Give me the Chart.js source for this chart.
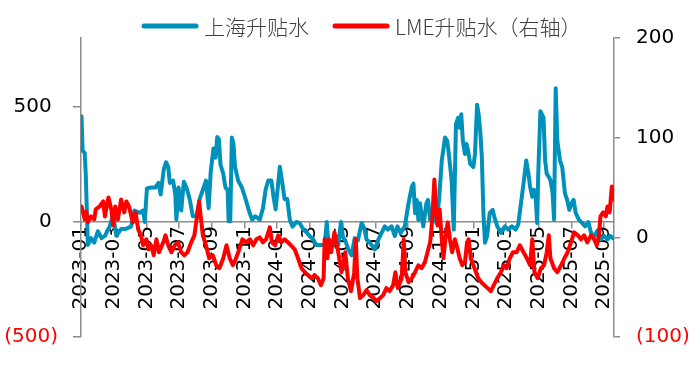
<!DOCTYPE html>
<html>
<head>
<meta charset="utf-8">
<script src="https://cdn.jsdelivr.net/npm/chart.js@4"></script>
<style>
  html, body { margin: 0; padding: 0; background: #fff; }
  #wrap { width: 700px; height: 365px; }
</style>
</head>
<body>
<div id="wrap"><canvas id="c" width="700" height="365"></canvas></div>
<script>
// ---------------- data ----------------
const seriesNames = ['上海升贴水', 'LME升贴水（右轴）'];

const shDates = ['2023-01-02','2023-01-04','2023-01-08','2023-01-10','2023-01-14','2023-01-20','2023-01-26','2023-02-02','2023-02-08','2023-02-14','2023-02-22','2023-02-28','2023-03-06','2023-03-15','2023-03-24','2023-04-03','2023-04-09','2023-04-19','2023-04-25','2023-04-28','2023-05-02','2023-05-10','2023-05-18','2023-05-24','2023-05-28','2023-06-03','2023-06-07','2023-06-11','2023-06-14','2023-06-20','2023-06-24','2023-06-26','2023-06-30','2023-07-05','2023-07-10','2023-07-15','2023-07-21','2023-07-27','2023-08-03','2023-08-09','2023-08-15','2023-08-21','2023-08-26','2023-08-30','2023-09-04','2023-09-08','2023-09-11','2023-09-14','2023-09-17','2023-09-22','2023-09-26','2023-09-30','2023-10-02','2023-10-05','2023-10-08','2023-10-11','2023-10-14','2023-10-20','2023-10-27','2023-11-03','2023-11-09','2023-11-15','2023-11-21','2023-11-29','2023-12-05','2023-12-10','2023-12-15','2023-12-21','2023-12-25','2023-12-29','2024-01-03','2024-01-06','2024-01-10','2024-01-15','2024-01-20','2024-01-25','2024-01-30','2024-02-06','2024-02-12','2024-02-18','2024-02-24','2024-02-29','2024-03-07','2024-03-13','2024-03-22','2024-03-29','2024-04-02','2024-04-05','2024-04-13','2024-04-23','2024-04-28','2024-05-02','2024-05-06','2024-05-12','2024-05-18','2024-05-24','2024-05-30','2024-06-06','2024-06-11','2024-06-15','2024-06-21','2024-06-30','2024-07-07','2024-07-13','2024-07-19','2024-07-25','2024-08-01','2024-08-07','2024-08-12','2024-08-18','2024-08-26','2024-09-02','2024-09-08','2024-09-11','2024-09-14','2024-09-17','2024-09-20','2024-09-23','2024-09-29','2024-10-05','2024-10-08','2024-10-12','2024-10-18','2024-10-24','2024-10-29','2024-11-03','2024-11-09','2024-11-13','2024-11-16','2024-11-21','2024-11-25','2024-11-29','2024-12-03','2024-12-06','2024-12-09','2024-12-12','2024-12-16','2024-12-19','2024-12-22','2024-12-26','2025-01-01','2025-01-04','2025-01-08','2025-01-11','2025-01-14','2025-01-17','2025-01-20','2025-01-23','2025-01-27','2025-02-01','2025-02-06','2025-02-09','2025-02-14','2025-02-20','2025-02-27','2025-03-05','2025-03-12','2025-03-19','2025-03-24','2025-03-28','2025-04-03','2025-04-08','2025-04-12','2025-04-15','2025-04-19','2025-04-22','2025-04-25','2025-04-28','2025-04-30','2025-05-04','2025-05-07','2025-05-10','2025-05-13','2025-05-16','2025-05-20','2025-05-23','2025-05-27','2025-05-30','2025-06-02','2025-06-05','2025-06-10','2025-06-14','2025-06-19','2025-06-23','2025-06-27','2025-07-01','2025-07-05','2025-07-09','2025-07-15','2025-07-21','2025-07-27','2025-08-02','2025-08-07','2025-08-13','2025-08-19','2025-08-25','2025-09-01','2025-09-07','2025-09-12','2025-09-17'];
const shValues = [460,310,300,210,-100,-70,-90,-40,-70,-60,-20,30,-60,-30,-30,-20,50,40,50,0,146,150,150,170,120,230,260,240,170,180,120,10,150,50,175,150,100,25,25,100,140,180,60,220,320,280,370,360,250,210,150,140,3,3,367,340,240,180,150,100,50,10,25,10,60,140,180,180,110,55,170,240,180,100,100,10,-20,0,-5,-30,-45,-60,-75,-100,-100,-100,0,-100,-90,-100,0,-70,-80,-120,-145,-70,-80,-4,-30,-76,-90,-119,-76,-47,-19,-33,-19,-61,-19,-47,-19,82,153,167,39,96,10,82,-19,82,96,10,24,-4,100,267,367,353,296,182,-33,425,453,410,468,353,296,339,310,253,239,296,510,468,396,282,39,-90,-60,40,53,20,-19,-47,-19,-33,-19,-33,-10,60,167,267,210,153,110,140,120,-4,210,482,468,453,267,210,196,182,130,10,582,353,267,239,124,96,53,82,96,39,10,-4,-19,0,-47,-61,-40,-76,-60,-76,-60,-70];

const lmeDates = ['2023-01-02','2023-01-05','2023-01-08','2023-01-11','2023-01-14','2023-01-20','2023-01-26','2023-01-29','2023-02-05','2023-02-11','2023-02-14','2023-02-20','2023-02-25','2023-02-28','2023-03-04','2023-03-09','2023-03-15','2023-03-21','2023-03-25','2023-03-30','2023-04-06','2023-04-11','2023-04-16','2023-04-21','2023-04-25','2023-05-01','2023-05-05','2023-05-10','2023-05-15','2023-05-20','2023-05-25','2023-06-02','2023-06-06','2023-06-11','2023-06-17','2023-06-23','2023-06-29','2023-07-05','2023-07-11','2023-07-17','2023-07-24','2023-07-30','2023-08-04','2023-08-08','2023-08-11','2023-08-15','2023-08-21','2023-08-27','2023-09-03','2023-09-09','2023-09-15','2023-09-22','2023-09-28','2023-10-04','2023-10-10','2023-10-16','2023-10-22','2023-10-28','2023-11-04','2023-11-11','2023-11-17','2023-11-23','2023-11-29','2023-12-05','2023-12-11','2023-12-18','2023-12-22','2023-12-28','2024-01-03','2024-01-09','2024-01-15','2024-01-21','2024-01-27','2024-02-03','2024-02-09','2024-02-15','2024-02-21','2024-02-27','2024-03-04','2024-03-10','2024-03-16','2024-03-22','2024-03-27','2024-03-29','2024-04-03','2024-04-06','2024-04-10','2024-04-16','2024-04-23','2024-04-29','2024-05-06','2024-05-11','2024-05-17','2024-05-23','2024-05-26','2024-05-29','2024-06-03','2024-06-09','2024-06-15','2024-06-21','2024-06-28','2024-07-03','2024-07-10','2024-07-16','2024-07-22','2024-07-28','2024-08-04','2024-08-08','2024-08-13','2024-08-20','2024-08-24','2024-08-27','2024-09-02','2024-09-08','2024-09-14','2024-09-20','2024-09-26','2024-10-02','2024-10-07','2024-10-12','2024-10-16','2024-10-20','2024-10-23','2024-10-26','2024-10-30','2024-11-03','2024-11-06','2024-11-11','2024-11-14','2024-11-18','2024-11-22','2024-11-27','2024-12-02','2024-12-06','2024-12-11','2024-12-16','2024-12-20','2024-12-23','2024-12-27','2025-01-01','2025-01-06','2025-01-10','2025-01-16','2025-01-22','2025-01-28','2025-02-03','2025-02-08','2025-02-14','2025-02-20','2025-02-26','2025-03-02','2025-03-08','2025-03-14','2025-03-21','2025-03-27','2025-04-03','2025-04-09','2025-04-15','2025-04-19','2025-04-23','2025-04-29','2025-05-05','2025-05-11','2025-05-16','2025-05-20','2025-05-23','2025-05-30','2025-06-05','2025-06-12','2025-06-18','2025-06-24','2025-06-30','2025-07-06','2025-07-13','2025-07-19','2025-07-25','2025-07-31','2025-08-07','2025-08-13','2025-08-18','2025-08-22','2025-08-25','2025-08-30','2025-09-04','2025-09-07','2025-09-11','2025-09-15','2025-09-17'];
const lmeValues = [31,25,18,26,15,21,18,28,31,36,21,40,28,12,31,18,38,25,36,31,15,25,8,2,-8,-2,-12,-8,-18,-2,-15,-5,2,-8,-15,-8,-5,-15,-18,-15,-5,2,21,36,21,2,-8,-21,-18,-28,-31,-21,-8,-21,-28,-21,-12,-2,-5,-2,-8,-2,0,-5,-2,10,-5,-8,2,-5,-2,-5,-8,-12,-21,-31,-35,-38,-41,-38,-41,-48,-41,-2,-21,-2,-15,5,-15,-35,-15,-41,-54,-35,-2,-41,-61,-58,-53,-58,-61,-64,-61,-58,-51,-54,-48,-35,-51,-41,-2,-35,-45,-41,-35,-28,-31,-25,-15,-5,18,58,31,12,28,-2,-21,5,15,-2,-15,-2,-12,-21,-28,-25,-5,-2,-21,-28,-35,-41,-45,-48,-51,-54,-48,-41,-35,-28,-31,-21,-15,-15,-8,-15,-21,-28,-2,-35,-41,-31,-28,-15,2,-21,-31,-35,-28,-21,-15,-5,5,2,-2,2,-5,2,-2,-8,2,21,25,21,31,25,51,38];

const xTickLabels = ['2023-01','2023-03','2023-05','2023-07','2023-09','2023-11','2024-01','2024-03','2024-05','2024-07','2024-09','2024-11','2025-01','2025-03','2025-05','2025-07','2025-09'];
const leftTicks = [-500, 0, 500];
const rightTicks = [-100, 0, 100, 200];

// ---------------- helpers ----------------
function monthIndex(s) {
  const [y, m, d] = s.split('-').map(Number);
  const dim = new Date(y, m, 0).getDate();
  return (y - 2023) * 12 + (m - 1) + ((d || 1) - 1) / dim;
}
function fmtLeft(v) { return v < 0 ? '(' + Math.abs(v) + ')' : v + ' '; }
function fmtRight(v) { return v < 0 ? '(' + Math.abs(v) + ')' : String(v); }

const BLUE = '#0091BB';
const RED = '#FF0000';
const AXIS = '#8C8C8C';
const FONT = '"DejaVu Sans", "Noto Sans CJK SC", sans-serif';

const legendPlugin = {
  id: 'lineLegend',
  afterDraw(chart) {
    const ctx = chart.ctx;
    const starts = [142, 333];
    const y = 26;
    ctx.save();
    chart.data.datasets.forEach((ds, i) => {
      const x0 = starts[i];
      ctx.strokeStyle = ds.borderColor;
      ctx.lineWidth = 5;
      ctx.lineCap = 'round';
      ctx.beginPath();
      ctx.moveTo(x0 + 2, y);
      ctx.lineTo(x0 + 54, y);
      ctx.stroke();
      ctx.fillStyle = '#404040';
      ctx.font = '300 21px "Noto Sans CJK SC", ' + FONT;
      ctx.textBaseline = 'middle';
      ctx.textAlign = 'left';
      ctx.fillText(ds.label, x0 + 62, y + 1);
    });
    ctx.restore();
  }
};

new Chart(document.getElementById('c'), {
  type: 'line',
  data: {
    datasets: [
      {
        label: seriesNames[0],
        data: shDates.map((d, i) => ({ x: monthIndex(d), y: shValues[i] })),
        borderColor: BLUE,
        backgroundColor: BLUE,
        borderWidth: 4,
        pointRadius: 0,
        tension: 0,
        borderJoinStyle: 'round',
        borderCapStyle: 'round',
        yAxisID: 'y',
        order: 2
      },
      {
        label: seriesNames[1],
        data: lmeDates.map((d, i) => ({ x: monthIndex(d), y: lmeValues[i] })),
        borderColor: RED,
        backgroundColor: RED,
        borderWidth: 4,
        pointRadius: 0,
        tension: 0,
        borderJoinStyle: 'round',
        borderCapStyle: 'round',
        yAxisID: 'y1',
        order: 1
      }
    ]
  },
  options: {
    responsive: false,
    animation: false,
    events: [],
    layout: { padding: { top: 38, bottom: 24, left: 0, right: 0 } },
    plugins: { legend: { display: false }, tooltip: { enabled: false } },
    scales: {
      x: {
        type: 'linear',
        position: { y: 0 },
        min: 0,
        max: 32.6,
        afterBuildTicks: (scale) => { scale.ticks = xTickLabels.map(l => ({ value: monthIndex(l + '-01') })); },
        ticks: {
          autoSkip: false,
          minRotation: 90,
          maxRotation: 90,
          padding: -2,
          color: '#000',
          font: { family: FONT, size: 20 },
          callback: (v, i) => xTickLabels[i]
        },
        grid: { display: true, drawOnChartArea: false, drawTicks: true, tickLength: 6, color: AXIS, lineWidth: 1.5 },
        border: { display: true, color: AXIS, width: 1.5 }
      },
      y: {
        type: 'linear',
        position: 'left',
        min: -500,
        max: 800,
        afterBuildTicks: (scale) => { scale.ticks = leftTicks.map(v => ({ value: v })); },
        afterFit: (scale) => { scale.width = 81; },
        ticks: {
          padding: 15,
          color: (c) => (c.tick && c.tick.value < 0 ? RED : '#000'),
          font: { family: FONT, size: 20 },
          callback: (v) => fmtLeft(v)
        },
        grid: { display: true, drawOnChartArea: false, drawTicks: true, tickLength: 8, color: AXIS, lineWidth: 1.5 },
        border: { display: true, color: AXIS, width: 1.5 }
      },
      y1: {
        type: 'linear',
        position: 'right',
        min: -100,
        max: 200,
        afterBuildTicks: (scale) => { scale.ticks = rightTicks.map(v => ({ value: v })); },
        afterFit: (scale) => { scale.width = 86; },
        ticks: {
          padding: 16,
          color: (c) => (c.tick && c.tick.value < 0 ? RED : '#000'),
          font: { family: FONT, size: 20 },
          callback: (v) => fmtRight(v)
        },
        grid: { display: true, drawOnChartArea: false, drawTicks: true, tickLength: 6, color: AXIS, lineWidth: 1.5 },
        border: { display: true, color: AXIS, width: 1.5 }
      }
    }
  },
  plugins: [legendPlugin]
});
</script>
</body>
</html>
